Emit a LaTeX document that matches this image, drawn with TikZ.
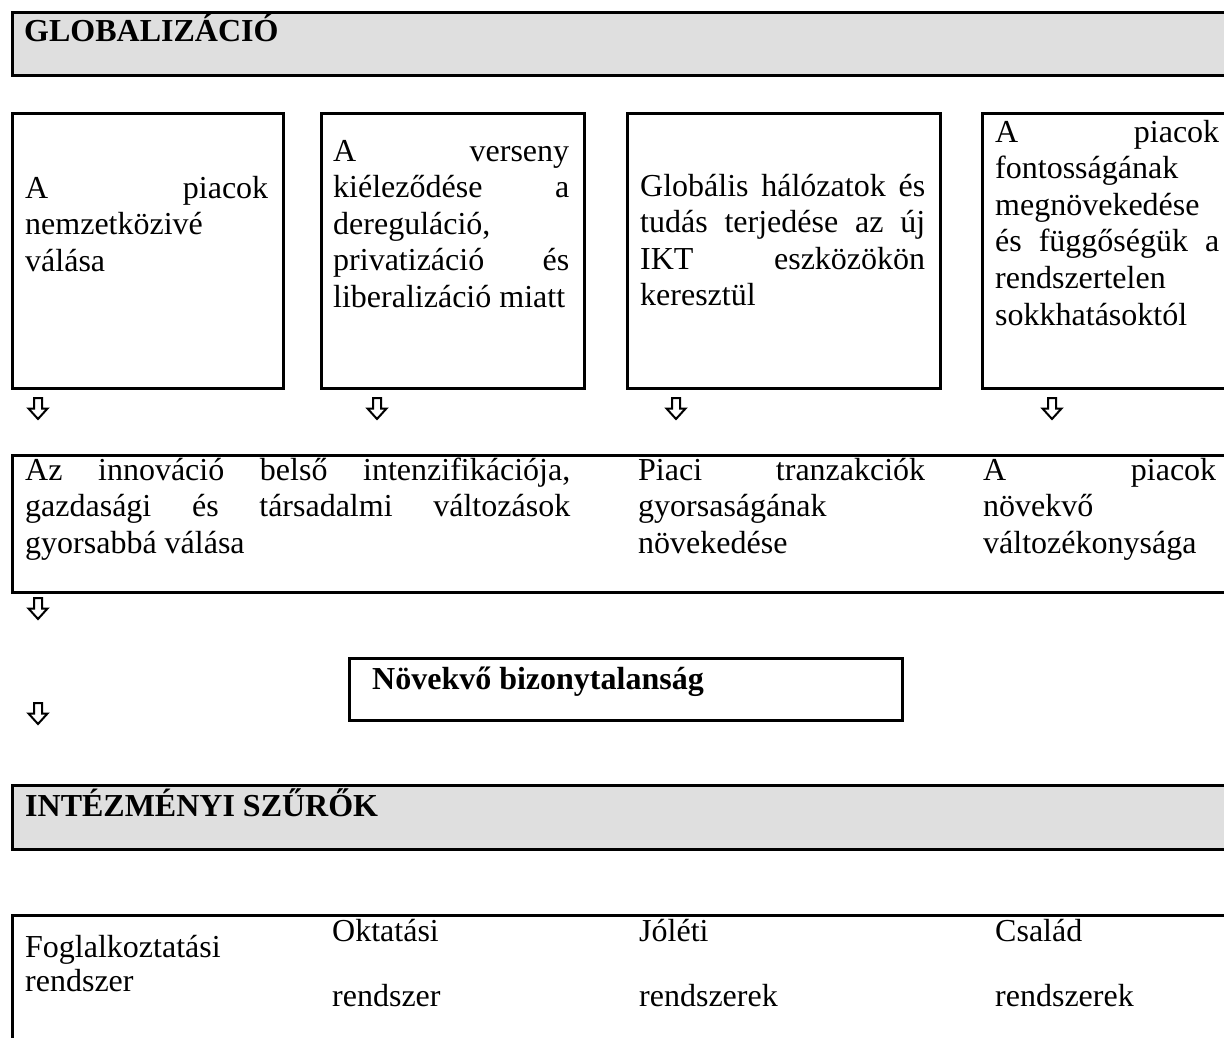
\documentclass[tikz,border=0pt]{standalone}
\usepackage{fontspec}
\setmainfont{Liberation Serif}
\definecolor{boxgray}{HTML}{DFDFDF}
\newcommand\jline[1]{\makebox[\linewidth][s]{#1}}
\begin{document}
\begin{tikzpicture}[x=1pt,y=-1pt,
  frame/.style={draw=black, line width=2.5pt, inner sep=0pt, anchor=north west},
  graybox/.style={frame, fill=boxgray},
  txt/.style={inner sep=0pt, anchor=base west, font=\fontsize{32}{36.6}\selectfont},
  btxt/.style={inner sep=0pt, anchor=base west, font=\fontsize{32}{36.6}\selectfont\bfseries},
  harrow/.pic={\draw[line width=2pt, line join=miter] (-4,0) -- (4,0) -- (4,10.5) -- (9.5,10.5) -- (0,21) -- (-9.5,10.5) -- (-4,10.5) -- cycle;}
]
\useasboundingbox (0,0) rectangle (1224,1037);
\fill[white] (0,0) rectangle (1224,1037);
\clip (0,0) rectangle (1224,1037);

% header
\node[graybox, minimum width=1300pt, minimum height=63pt] (glob) at (11,11) {};
\node[btxt] (globt) at (24,41) {GLOBALIZÁCIÓ};

% row 1
\node[frame, minimum width=271pt, minimum height=275pt] (b1) at (11,112) {};
\node[frame, minimum width=263pt, minimum height=275pt] (b2) at (320,112) {};
\node[frame, minimum width=313pt, minimum height=275pt] (b3) at (626,112) {};
\node[frame, minimum width=300pt, minimum height=275pt] (b4) at (981,112) {};

\node[txt] (t1) at (25,198) {\parbox[t]{243pt}{\jline{A piacok}\\nemzetközivé\\válása}};
\node[txt] (t2) at (333,161) {\parbox[t]{236pt}{\jline{A verseny}\\\jline{kiéleződése a}\\dereguláció,\\\jline{privatizáció és}\\liberalizáció miatt}};
\node[txt] (t3) at (640,196) {\parbox[t]{285pt}{\jline{Globális hálózatok és}\\\jline{tudás terjedése az új}\\\jline{IKT eszközökön}\\keresztül}};
\node[txt] (t4) at (995,142) {\parbox[t]{224pt}{\jline{A piacok}\\fontosságának\\megnövekedése\\\jline{és függőségük a}\\rendszertelen\\sokkhatásoktól}};

\pic (a1) at (38,398) {harrow};
\pic (a2) at (377,398) {harrow};
\pic (a3) at (676,398) {harrow};
\pic (a4) at (1052,398) {harrow};

% row 2
\node[frame, minimum width=1300pt, minimum height=137pt] (r2) at (11,454) {};
\node[txt] (r2a) at (25,480) {\parbox[t]{545pt}{\jline{Az innováció belső intenzifikációja,}\\\jline{gazdasági és társadalmi változások}\\gyorsabbá válása}};
\node[txt] (r2b) at (638,480) {\parbox[t]{287pt}{\jline{Piaci tranzakciók}\\gyorsaságának\\növekedése}};
\node[txt] (r2c) at (983,480) {\parbox[t]{233pt}{\jline{A piacok}\\növekvő\\változékonysága}};

\pic (a5) at (38,598) {harrow};

% uncertainty
\node[frame, minimum width=553pt, minimum height=62pt] (nov) at (348,657) {};
\node[btxt] (novt) at (372,689) {Növekvő bizonytalanság};

\pic (a6) at (38,703) {harrow};

% institutional filters
\node[graybox, minimum width=1300pt, minimum height=64pt] (inst) at (11,784) {};
\node[btxt] (instt) at (25,816) {INTÉZMÉNYI SZŰRŐK};

% bottom
\node[frame, minimum width=1300pt, minimum height=200pt] (bot) at (11,914) {};
\node[txt] (c1a) at (25,957) {Foglalkoztatási};
\node[txt] (c1b) at (25,991) {rendszer};
\node[txt] (c2a) at (332,941) {Oktatási};
\node[txt] (c2b) at (332,1006) {rendszer};
\node[txt] (c3a) at (639,941) {Jóléti};
\node[txt] (c3b) at (639,1006) {rendszerek};
\node[txt] (c4a) at (995,941) {Család};
\node[txt] (c4b) at (995,1006) {rendszerek};
\end{tikzpicture}
\end{document}
